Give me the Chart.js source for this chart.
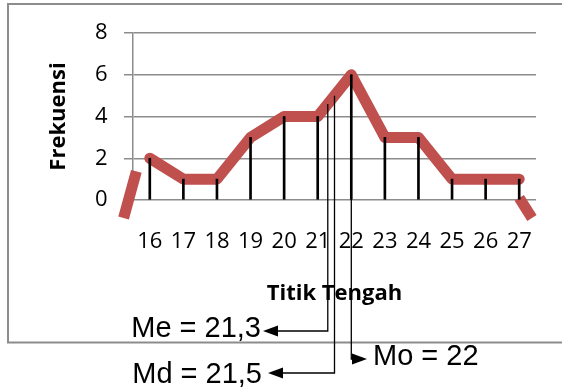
<!DOCTYPE html>
<html>
<head>
<meta charset="utf-8">
<script src="https://cdn.jsdelivr.net/npm/chart.js@4/dist/chart.umd.min.js"></script>
<style>
  html, body { margin: 0; padding: 0; background: #fff; }
  #wrap { width: 562px; height: 387px; position: relative; }
</style>
</head>
<body>
<div id="wrap"><canvas id="c" width="562" height="387"></canvas></div>
<script>
// Poligon frekuensi: titik tengah kelas dan frekuensinya
const titikTengah = [16, 17, 18, 19, 20, 21, 22, 23, 24, 25, 26, 27];
const frekuensi   = [2, 1, 1, 3, 4, 4, 6, 3, 3, 1, 1, 1];
const yTicks      = [0, 2, 4, 6, 8];

// Ujung poligon yang turun ke sumbu di kiri dan kanan
const ekorKiriX  = [15.22, 15.6];
const ekorKiriY  = [-0.86, 1.37];
const ekorKananX = [27.0, 27.38];
const ekorKananY = [0.1, -0.86];

// Ukuran pemusatan (Me, Md, Mo)
const ukuranNama  = ['Me', 'Md', 'Mo'];
const ukuranNilai = [21.3, 21.5, 22];

const MERAH = '#C0504D';
const ABU = '#8c8c8c';
const tickFont  = { family: 'Open Sans', size: 22 };
const titleFont = { family: 'Open Sans', size: 22, weight: 'bold' };

// posisi keterangan panah di bawah grafik
const tataLetak = [
  { y: 331, dir: -1, tipX: 263, textX: 261, baseY: 336.5 },
  { y: 373, dir: -1, tipX: 268, textX: 262, baseY: 383 },
  { y: 359, dir: 1,  tipX: 367, textX: 373, baseY: 365 }
];

function titik(xs, ys) { return xs.map((x, i) => ({ x, y: ys[i] })); }

// nilai poligon pada x tertentu
function nilaiPada(x) {
  for (let i = 0; i < titikTengah.length - 1; i++) {
    const a = titikTengah[i], b = titikTengah[i + 1];
    if (x >= a && x <= b) {
      const t = (x - a) / (b - a);
      return frekuensi[i] + t * (frekuensi[i + 1] - frekuensi[i]);
    }
  }
  return 0;
}

const bingkai = {
  id: 'bingkai',
  beforeDraw(chart) {
    const ctx = chart.ctx;
    ctx.save();
    ctx.fillStyle = '#fff';
    ctx.fillRect(0, 0, chart.width, chart.height);
    ctx.strokeStyle = ABU;
    ctx.lineWidth = 2;
    ctx.strokeRect(8, 4, 600, 338.5);
    ctx.restore();
  }
};

const keterangan = {
  id: 'keterangan',
  afterDatasetsDraw(chart) {
    const ctx = chart.ctx;
    const xs = chart.scales.x, ys = chart.scales.y;
    ctx.save();
    ctx.strokeStyle = '#000';
    ctx.fillStyle = '#000';
    ukuranNilai.forEach((v, i) => {
      const L = tataLetak[i];
      const px = xs.getPixelForValue(v);
      const top = ys.getPixelForValue(nilaiPada(v));
      const pangkal = L.tipX - L.dir * 15;
      ctx.lineWidth = 1.3;
      ctx.beginPath();
      ctx.moveTo(px, top);
      ctx.lineTo(px, L.y);
      ctx.lineTo(pangkal, L.y);
      ctx.stroke();
      ctx.beginPath();
      ctx.moveTo(L.tipX, L.y);
      ctx.lineTo(pangkal, L.y - 5.5);
      ctx.lineTo(pangkal, L.y + 5.5);
      ctx.closePath();
      ctx.fill();
      ctx.font = '29px "Liberation Sans", Arial, sans-serif';
      ctx.textAlign = L.dir < 0 ? 'right' : 'left';
      ctx.textBaseline = 'alphabetic';
      ctx.fillText(ukuranNama[i] + ' = ' + String(v).replace('.', ','), L.textX, L.baseY);
    });
    ctx.restore();
  }
};

new Chart(document.getElementById('c'), {
  type: 'line',
  data: {
    datasets: [
      {
        type: 'bar',
        data: titik(titikTengah, frekuensi),
        backgroundColor: '#000',
        barThickness: 2,
        order: 1
      },
      {
        data: titik(titikTengah, frekuensi),
        borderColor: MERAH,
        borderWidth: 11,
        borderCapStyle: 'round',
        borderJoinStyle: 'round',
        pointRadius: 0,
        tension: 0,
        order: 2
      },
      {
        data: titik(ekorKiriX, ekorKiriY),
        borderColor: MERAH,
        borderWidth: 11,
        borderCapStyle: 'butt',
        pointRadius: 0,
        clip: false,
        order: 2
      },
      {
        data: titik(ekorKananX, ekorKananY),
        borderColor: MERAH,
        borderWidth: 11,
        borderCapStyle: 'butt',
        pointRadius: 0,
        clip: false,
        order: 2
      }
    ]
  },
  options: {
    responsive: false,
    animation: false,
    devicePixelRatio: 1,
    layout: { padding: { top: 33, right: 26, left: 0, bottom: 0 } },
    plugins: { legend: { display: false }, tooltip: { enabled: false } },
    scales: {
      x: {
        type: 'linear',
        min: 15.5,
        max: 27.5,
        offset: false,
        grid: { display: false, drawTicks: false, offset: false },
        border: { display: false },
        afterBuildTicks: s => { s.ticks = titikTengah.map(v => ({ value: v })); },
        afterFit: s => { s.height = 187; },
        ticks: { font: tickFont, color: '#000', padding: 28.5, autoSkip: false, maxRotation: 0 },
        title: { display: true, text: 'Titik Tengah', font: titleFont, color: '#000', padding: { top: 0, bottom: 80 } }
      },
      y: {
        min: 0,
        max: 8,
        afterBuildTicks: s => { s.ticks = yTicks.map(v => ({ value: v })); },
        afterFit: s => { s.width = 133; },
        grid: { color: ABU, lineWidth: 1.5, tickLength: 9, drawTicks: true },
        border: { color: ABU, width: 1.5 },
        ticks: { font: tickFont, color: '#000', padding: 16.5 },
        title: { display: true, text: 'Frekuensi', font: titleFont, color: '#000', padding: { top: 45.5, bottom: 0 } }
      }
    }
  },
  plugins: [bingkai, keterangan]
});
</script>
</body>
</html>
